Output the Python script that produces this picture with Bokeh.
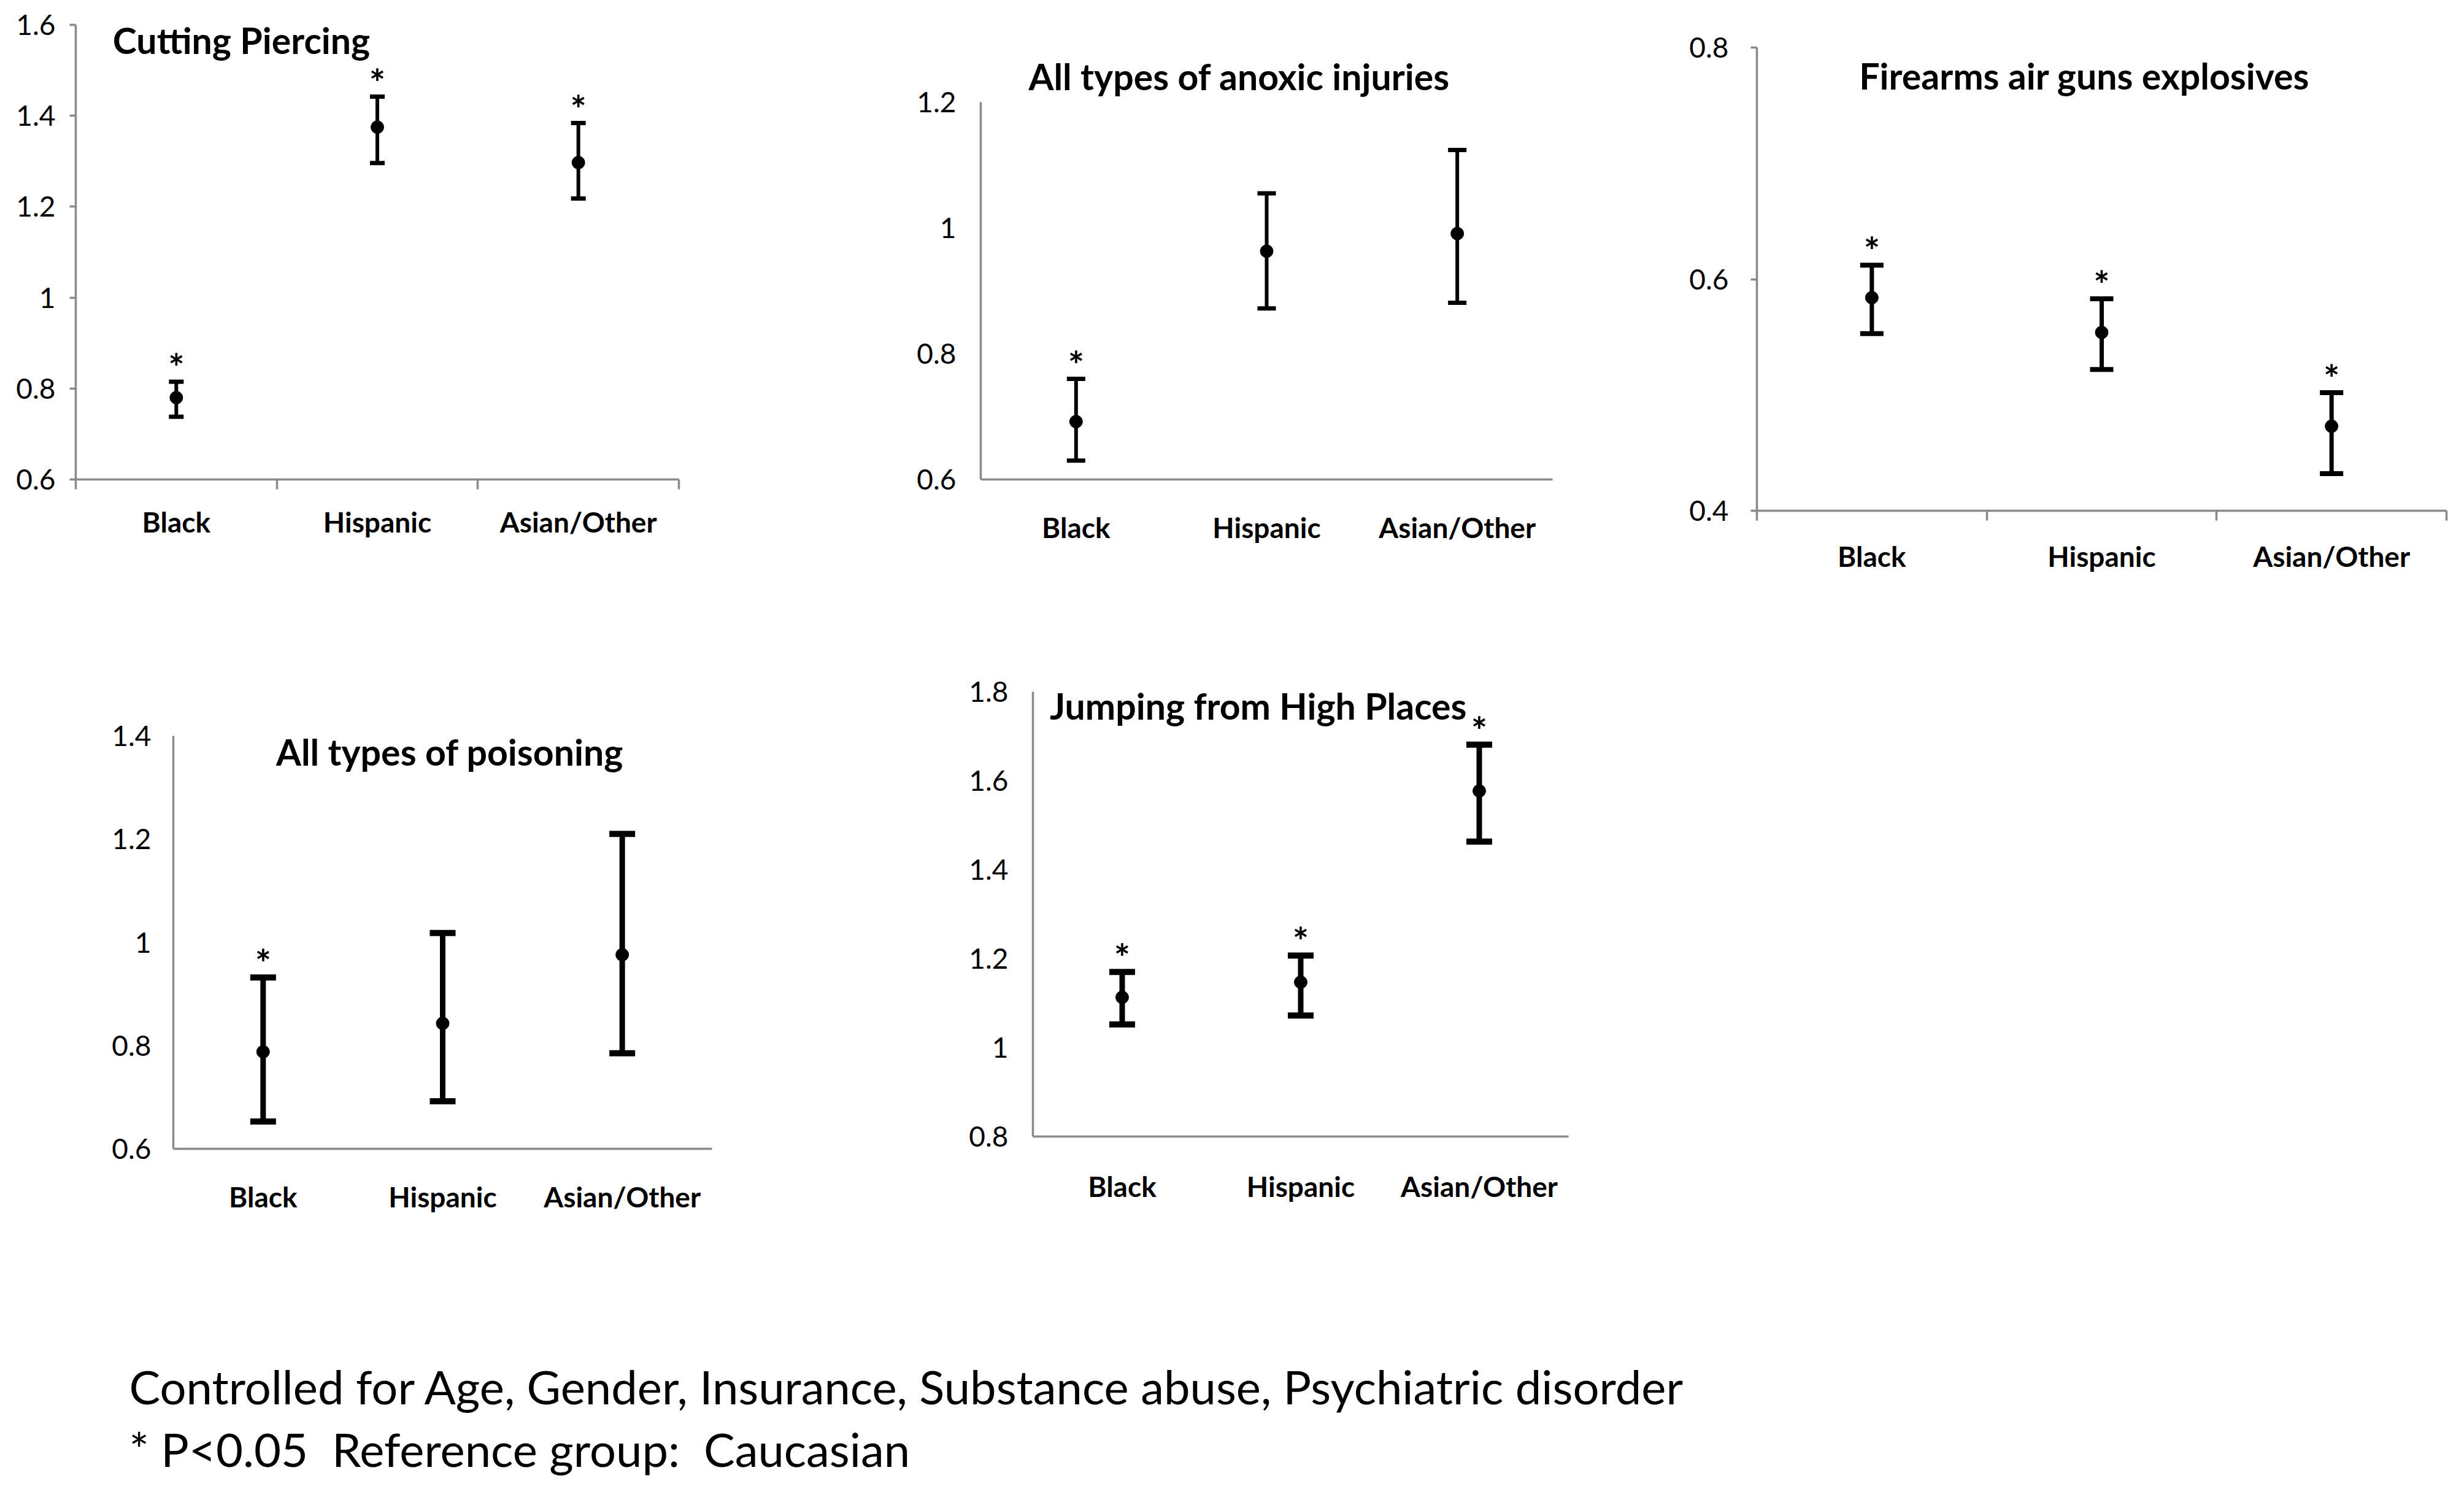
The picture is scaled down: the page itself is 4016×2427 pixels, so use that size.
from bokeh.plotting import figure
from bokeh.models import (Range1d, FixedTicker, Whisker, TeeHead, ColumnDataSource, Label, Spacer)
from bokeh.layouts import row, column
from bokeh.core.properties import value
from bokeh.embed import file_html
from bokeh.resources import INLINE

# ---------------- data ----------------
categories = ["Black", "Hispanic", "Asian/Other"]

cut_title = "Cutting Piercing"
cut_est = [0.78, 1.375, 1.297]
cut_lo = [0.738, 1.296, 1.218]
cut_hi = [0.815, 1.442, 1.384]
cut_sig = [True, True, True]
cut_yticks = [0.6, 0.8, 1.0, 1.2, 1.4, 1.6]
cut_ylabels = ["0.6", "0.8", "1", "1.2", "1.4", "1.6"]

anox_title = "All types of anoxic injuries"
anox_est = [0.692, 0.963, 0.991]
anox_lo = [0.630, 0.872, 0.881]
anox_hi = [0.760, 1.055, 1.124]
anox_sig = [True, False, False]
anox_yticks = [0.6, 0.8, 1.0, 1.2]
anox_ylabels = ["0.6", "0.8", "1", "1.2"]

fire_title = "Firearms air guns explosives"
fire_est = [0.584, 0.554, 0.473]
fire_lo = [0.553, 0.522, 0.432]
fire_hi = [0.612, 0.583, 0.502]
fire_sig = [True, True, True]
fire_yticks = [0.4, 0.6, 0.8]
fire_ylabels = ["0.4", "0.6", "0.8"]

pois_title = "All types of poisoning"
pois_est = [0.788, 0.843, 0.976]
pois_lo = [0.653, 0.692, 0.785]
pois_hi = [0.932, 1.018, 1.210]
pois_sig = [True, False, False]
pois_yticks = [0.6, 0.8, 1.0, 1.2, 1.4]
pois_ylabels = ["0.6", "0.8", "1", "1.2", "1.4"]

jump_title = "Jumping from High Places"
jump_est = [1.113, 1.147, 1.577]
jump_lo = [1.052, 1.072, 1.463]
jump_hi = [1.170, 1.207, 1.681]
jump_sig = [True, True, True]
jump_yticks = [0.8, 1.0, 1.2, 1.4, 1.6, 1.8]
jump_ylabels = ["0.8", "1", "1.2", "1.4", "1.6", "1.8"]

footer_lines = ["Controlled for Age, Gender, Insurance, Substance abuse, Psychiatric disorder",
                "* P<0.05\u00a0 Reference group:\u00a0 Caucasian"]

AXIS_COLOR = "#8a8a8a"
FONT = "Lato"


def make_panel(title, est, lo, hi, sig, yticks, ylabels, W, H, bl, br, bt, bb,
               tx, ty, lw, cap, marks, xstand, ystand, title_above=False, title_offset=0):
    n = len(categories)
    p = figure(width=W, height=H, x_range=Range1d(0, n),
               y_range=Range1d(yticks[0], yticks[-1]),
               output_backend="svg", toolbar_location=None,
               min_border_left=bl, min_border_right=br,
               min_border_top=bt, min_border_bottom=bb)
    p.grid.visible = False
    p.outline_line_color = None
    p.background_fill_color = "white"
    p.border_fill_color = "white"

    xs = [i + 0.5 for i in range(n)]
    xa = p.xaxis[0]
    xa.ticker = FixedTicker(ticks=xs, minor_ticks=list(range(n + 1)))
    xa.major_label_overrides = {x: c for x, c in zip(xs, categories)}
    xa.major_tick_out = 0
    xa.major_tick_in = 0
    xa.minor_tick_in = 0
    xa.minor_tick_out = 16 if marks else 0
    xa.minor_tick_line_color = AXIS_COLOR
    xa.minor_tick_line_width = 3.5
    xa.axis_line_color = AXIS_COLOR
    xa.axis_line_width = 3.5
    xa.major_label_text_font = FONT
    xa.major_label_text_font_style = "bold"
    xa.major_label_text_font_size = "46px"
    xa.major_label_text_color = "black"
    xa.major_label_standoff = xstand

    ya = p.yaxis[0]
    ya.ticker = FixedTicker(ticks=yticks, minor_ticks=[])
    ya.major_label_overrides = {t: l for t, l in zip(yticks, ylabels)}
    ya.major_tick_out = 10 if marks else 0
    ya.major_tick_in = 0
    ya.minor_tick_out = 0
    ya.minor_tick_in = 0
    ya.major_tick_line_color = AXIS_COLOR
    ya.major_tick_line_width = 3.5
    ya.axis_line_color = AXIS_COLOR
    ya.axis_line_width = 3.5
    ya.major_label_text_font = FONT
    ya.major_label_text_font_size = "46px"
    ya.major_label_text_color = "black"
    ya.major_label_standoff = ystand

    src = ColumnDataSource(dict(x=xs, est=est, lo=lo, hi=hi))
    w = Whisker(source=src, base="x", upper="hi", lower="lo",
                line_color="black", line_width=lw,
                upper_head=TeeHead(size=cap, line_color="black", line_width=lw + 1),
                lower_head=TeeHead(size=cap, line_color="black", line_width=lw + 1))
    p.add_layout(w)
    p.scatter(x="x", y="est", source=src, size=21, color="black")

    sx = [x for x, s in zip(xs, sig) if s]
    sy = [h for h, s in zip(hi, sig) if s]
    p.text(x=sx, y=sy, text=["*"] * len(sx), text_align="center",
           text_baseline="alphabetic", y_offset=-24,
           text_font=value(FONT), text_font_style="bold",
           text_font_size="62px", text_color="black")

    if title_above:
        p.title.text = title
        p.title.align = "left"
        p.title.offset = title_offset
        p.title.text_font = FONT
        p.title.text_font_style = "bold"
        p.title.text_font_size = "59px"
        p.title.text_color = "black"
        p.title.standoff = 13
    else:
        p.add_layout(Label(x=tx, y=ty, text=title, text_align="center",
                           text_baseline="middle", text_font=FONT,
                           text_font_style="bold", text_font_size="59px",
                           text_color="black"))
    return p


def placed(p, top_space, width):
    return column(Spacer(width=width, height=top_space), p)


# row 1 (height 968)
p1 = make_panel(cut_title, cut_est, cut_lo, cut_hi, cut_sig, cut_yticks, cut_ylabels,
                1368, 958, 123, 262, 30, 187, 0.824, 1.566, 6, 24, True, 25, 23)
p2 = make_panel(anox_title, anox_est, anox_lo, anox_hi, anox_sig, anox_yticks, anox_ylabels,
                1340, 912, 230, 178, 110, 187, None, None, 6, 30, False, 50, 40,
                title_above=True, title_offset=78)
p3 = make_panel(fire_title, fire_est, fire_lo, fire_hi, fire_sig, fire_yticks, fire_ylabels,
                1292, 921, 155, 13, 30, 136, 1.425, 0.7756, 7, 38, True, 30, 36)
# row 2 (height 1140)
p4 = make_panel(pois_title, pois_est, pois_lo, pois_hi, pois_sig, pois_yticks, pois_ylabels,
                1400, 939, 282, 240, 30, 236, 1.54, 1.3696, 9, 42, False, 50, 36)
p5 = make_panel(jump_title, jump_est, jump_lo, jump_hi, jump_sig, jump_yticks, jump_ylabels,
                1300, 1011, 283, 144, 30, 256, 1.262, 1.768, 9, 42, False, 53, 40)

FOOT_H = 303
foot = figure(width=4000, height=FOOT_H, x_range=Range1d(0, 4000), y_range=Range1d(0, FOOT_H),
              output_backend="svg", toolbar_location=None, x_axis_type=None, y_axis_type=None,
              min_border=0)
foot.grid.visible = False
foot.outline_line_color = None
for line, yy in zip(footer_lines, [152, 50]):
    foot.add_layout(Label(x=210, y=yy, text=line, text_align="left", text_baseline="middle",
                          text_font=FONT, text_font_size="76px", text_color="black"))

layout = column(
    row(placed(p1, 10, 1368), placed(p2, 56, 1340), placed(p3, 47, 1292)),
    row(placed(p4, 201, 1400), placed(p5, 129, 1300)),
    foot)
open("out.html", "w").write(file_html(layout, INLINE))
